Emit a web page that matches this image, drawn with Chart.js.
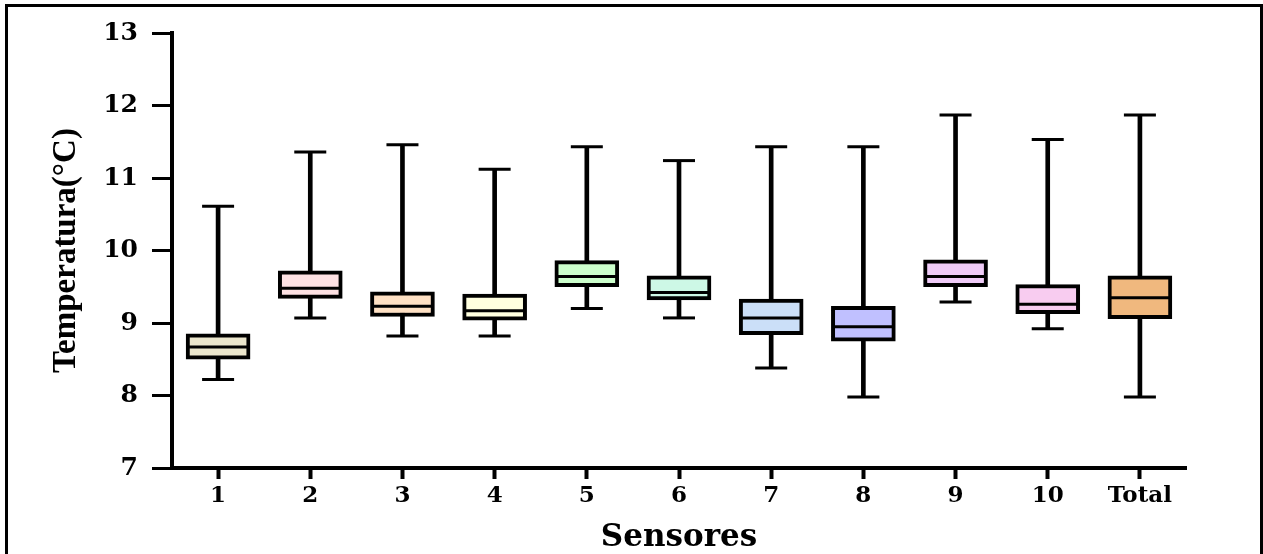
<!DOCTYPE html>
<html>
<head>
<meta charset="utf-8">
<title>Temperatura por sensor</title>
<script src="https://cdn.jsdelivr.net/npm/chart.js@4/dist/chart.umd.min.js"></script>
<style>
  html, body { margin: 0; padding: 0; background: #fff; overflow: hidden; }
  #wrap { position: relative; width: 1263px; height: 554px; }
  #chart { position: absolute; left: 0; top: 0; }
  #frame {
    position: absolute; left: 5px; top: 4px; width: 1252px; height: 600px;
    border: 3px solid #000; pointer-events: none;
  }
</style>
</head>
<body>
<div id="wrap">
  <canvas id="chart" width="1263" height="554"></canvas>
  <div id="frame"></div>
</div>
<script>
  // Categories (sensors) and box plot statistics
  const sensores = ['1', '2', '3', '4', '5', '6', '7', '8', '9', '10', 'Total'];
  const minimos  = [8.22, 9.07, 8.82, 8.82, 9.20, 9.07, 8.38, 7.98, 9.29, 8.92, 7.98];
  const cuartil1 = [8.50, 9.34, 9.09, 9.04, 9.50, 9.32, 8.84, 8.75, 9.50, 9.13, 9.06];
  const medianas = [8.67, 9.48, 9.23, 9.17, 9.64, 9.42, 9.07, 8.95, 9.64, 9.26, 9.35];
  const cuartil3 = [8.85, 9.72, 9.43, 9.40, 9.86, 9.65, 9.33, 9.23, 9.87, 9.53, 9.65];
  const maximos  = [10.61, 11.36, 11.46, 11.12, 11.43, 11.24, 11.43, 11.43, 11.87, 11.53, 11.87];
  const colores  = ['#ebe6cc', '#fde1e3', '#ffe1c4', '#ffffdf', '#ccffcc', '#cdf8e6',
                    '#cbdff8', '#c0c0ff', '#efcbf7', '#f8ccf0', '#f0b87e'];

  // Y axis ticks
  const yMin = 7;
  const yMax = 13;
  const yStep = 1;

  const serif = '"DejaVu Serif"';

  // Floating bars: whisker (min..max) and box (q1..q3)
  const bigotes = minimos.map((m, i) => [m, maximos[i]]);
  const cajas = cuartil1.map((q, i) => [q, cuartil3[i]]);

  // Short horizontal marks (caps and medians) drawn as 'line' point styles
  const marca = (data, radius, width) => ({
    type: 'line',
    data: data,
    showLine: false,
    pointStyle: 'line',
    pointRadius: radius,
    pointHoverRadius: radius,
    pointBorderWidth: width,
    pointBorderColor: '#000',
    pointBackgroundColor: '#000',
    order: 1
  });

  new Chart(document.getElementById('chart'), {
    type: 'bar',
    data: {
      labels: sensores,
      datasets: [
        {
          data: bigotes,
          backgroundColor: '#000',
          borderWidth: 0,
          barThickness: 4,
          grouped: false,
          order: 3
        },
        {
          data: cajas,
          backgroundColor: colores,
          borderColor: '#000',
          borderWidth: 4,
          borderSkipped: false,
          barThickness: 64,
          grouped: false,
          order: 2
        },
        marca(minimos, 16, 3),
        marca(maximos, 16, 3),
        marca(medianas, 30, 3)
      ]
    },
    options: {
      responsive: false,
      animation: false,
      events: [],
      devicePixelRatio: 1,
      layout: { padding: { top: 29, right: 77, left: 0, bottom: 0 } },
      plugins: {
        legend: { display: false },
        tooltip: { enabled: false }
      },
      scales: {
        x: {
          offset: true,
          afterFit: s => { s.height = 86; },
          border: { display: true, color: '#000', width: 4 },
          grid: {
            display: true,
            offset: false,
            drawOnChartArea: false,
            drawTicks: true,
            tickLength: 11,
            tickWidth: 4,
            tickColor: '#000'
          },
          ticks: { color: '#000', font: { family: serif, size: 23, weight: 'bold' }, padding: 3, maxRotation: 0 },
          title: {
            display: true,
            text: 'Sensores',
            color: '#000',
            font: { family: serif, size: 31, weight: 'bold' },
            padding: { top: 0, bottom: -3 }
          }
        },
        y: {
          min: yMin,
          max: yMax,
          afterFit: s => { s.width = 172; },
          border: { display: true, color: '#000', width: 4 },
          grid: {
            display: true,
            drawOnChartArea: false,
            drawTicks: true,
            tickLength: 20,
            tickWidth: 3,
            tickColor: '#000'
          },
          ticks: { stepSize: yStep, color: '#000', font: { family: serif, size: 25, weight: 'bold' }, padding: 14 },
          title: {
            display: true,
            text: 'Temperatura(°C)',
            color: '#000',
            font: { family: '"Liberation Serif"', size: 33, weight: 'bold' },
            padding: { top: 47, bottom: 0 }
          }
        }
      }
    }
  });
</script>
</body>
</html>
